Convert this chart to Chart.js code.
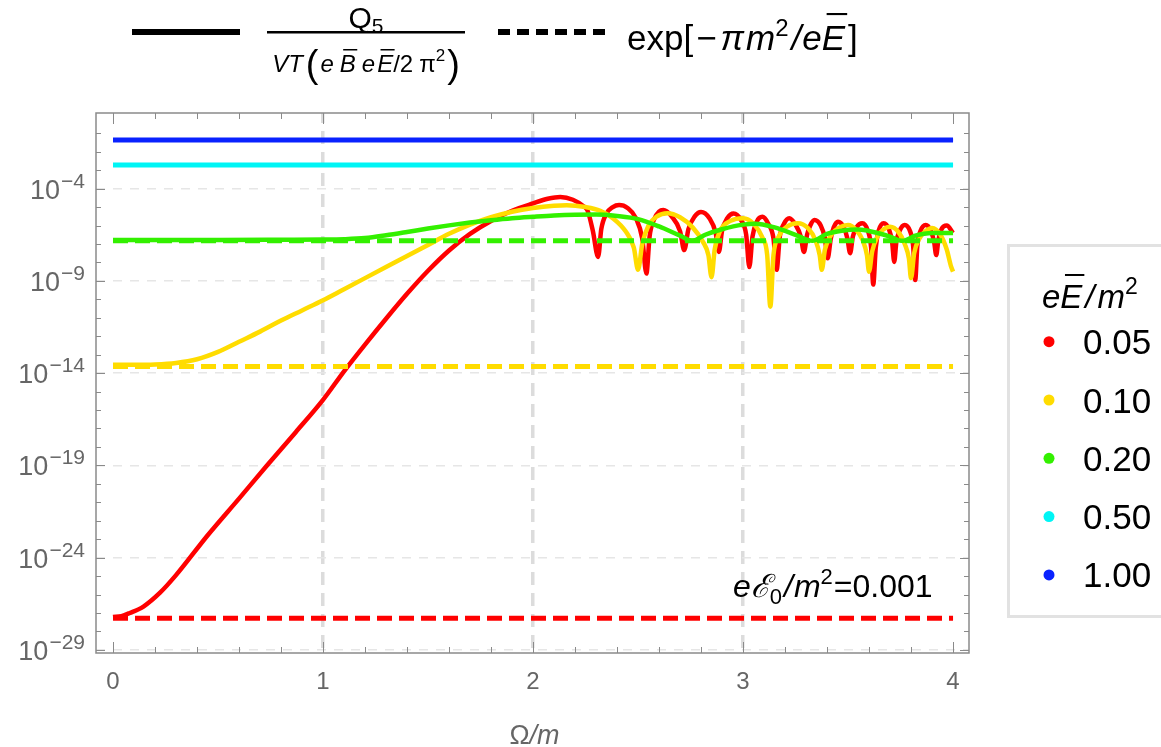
<!DOCTYPE html>
<html>
<head>
<meta charset="utf-8">
<script src="https://cdn.jsdelivr.net/npm/chart.js@4.4.1/dist/chart.umd.min.js"></script>
<style>
  html, body { margin: 0; padding: 0; background: #fff; }
  #wrap { position: relative; width: 1161px; height: 747px; }
</style>
</head>
<body>
<div id="wrap"><canvas id="chart" width="1161" height="747"></canvas></div>
<script>
// values: x is Omega/m, y values are log10 of Q5 / (VT eB eE / 2 pi^2)
const fieldLabels = ['0.05', '0.10', '0.20', '0.50', '1.00'];
const expLevels = [-27.29, -13.64, -6.82, -2.73, -1.36];   // log10 exp[-pi m^2 / eE]

const redOmega = [0, 0.04, 0.08, 0.145, 0.224, 0.3, 0.45, 0.6, 0.73, 0.87, 1.0, 1.1, 1.2, 1.3, 1.4, 1.5, 1.6, 1.7, 1.8, 1.9, 2.0, 2.07, 2.13, 2.19, 2.24, 2.26, 2.285, 2.31,
  2.325, 2.35, 2.38, 2.41, 2.45, 2.49, 2.52, 2.54, 2.555, 2.575, 2.6, 2.62, 2.66, 2.70, 2.72, 2.74, 2.77, 2.80, 2.84, 2.87, 2.885,
  2.90, 2.925, 2.955, 2.99, 3.015, 3.03, 3.045, 3.065, 3.092, 3.12, 3.145, 3.16, 3.175, 3.195, 3.22, 3.25, 3.275, 3.29,
  3.305, 3.32, 3.34, 3.37, 3.39, 3.403, 3.418, 3.432, 3.452, 3.48, 3.497, 3.51, 3.523, 3.54, 3.568, 3.595, 3.61, 3.62,
  3.632, 3.645, 3.67, 3.695, 3.71, 3.72, 3.73, 3.745, 3.77, 3.795, 3.81, 3.82, 3.83, 3.845, 3.87, 3.895, 3.91, 3.92,
  3.93, 3.945, 3.97, 4.0];
const redLog = [-27.22, -27.17, -27.0, -26.65, -25.9, -24.95, -22.8, -20.8, -19.05, -17.2, -15.45, -13.9, -12.45, -11.05, -9.7, -8.45, -7.35, -6.45, -5.75, -5.2, -4.8, -4.55, -4.45, -4.6, -4.95, -5.2, -6.3, -7.7,
  -6.2, -5.35, -5.0, -4.89, -5.05, -5.6, -6.7, -8.6, -6.6, -5.7, -5.25, -5.16, -5.5, -6.3, -7.33, -6.2, -5.5, -5.26, -5.6, -6.4, -7.43,
  -6.3, -5.6, -5.35, -5.7, -6.5, -8.25, -6.6, -5.8, -5.53, -5.9, -6.7, -8.4, -6.6, -5.9, -5.6, -5.95, -6.6, -7.43,
  -6.5, -6.0, -5.7, -6.0, -6.7, -7.77, -6.7, -6.1, -5.8, -6.1, -6.7, -7.5, -6.6, -6.1, -5.87, -6.3, -7.2, -9.2,
  -7.2, -6.3, -5.87, -6.2, -6.9, -7.97, -6.9, -6.3, -5.97, -6.3, -7.1, -8.95, -7.1, -6.3, -5.97, -6.3, -6.9, -7.6,
  -6.8, -6.2, -6.0, -6.4];

const yellowOmega = [0, 0.1, 0.2, 0.3, 0.4, 0.5, 0.6, 0.7, 0.8, 0.9, 1.0, 1.1, 1.2, 1.3, 1.4, 1.5, 1.6, 1.7, 1.8, 1.9, 2.0, 2.1, 2.16, 2.25, 2.32, 2.38, 2.44, 2.48, 2.50,
  2.52, 2.55, 2.59, 2.64, 2.70, 2.76, 2.81, 2.835, 2.85, 2.865, 2.89, 2.94, 3.0, 3.05, 3.09, 3.115, 3.13, 3.145, 3.17, 3.21, 3.26,
  3.31, 3.345, 3.365, 3.375, 3.39, 3.42, 3.46, 3.50, 3.54, 3.57, 3.59, 3.60, 3.615, 3.64, 3.67, 3.70, 3.74, 3.77, 3.79, 3.80,
  3.815, 3.84, 3.87, 3.90, 3.94, 3.97, 3.99, 4.0];
const yellowLog = [-13.55, -13.55, -13.53, -13.45, -13.25, -12.85, -12.3, -11.75, -11.15, -10.6, -10.05, -9.45, -8.85, -8.25, -7.65, -7.05, -6.45, -5.95, -5.55, -5.25, -5.05, -4.93, -4.9, -5.0, -5.2, -5.6, -6.3, -7.2, -8.4,
  -7.0, -6.0, -5.5, -5.33, -5.55, -6.1, -6.9, -7.6, -8.8, -7.3, -6.3, -5.75, -5.6, -5.9, -6.6, -7.6, -10.4, -7.6, -6.6, -6.05, -5.87,
  -6.15, -6.8, -7.6, -8.4, -7.3, -6.5, -6.1, -5.97, -6.25, -6.8, -7.6, -8.5, -7.4, -6.6, -6.2, -6.07, -6.35, -7.0, -7.8, -8.85,
  -7.5, -6.7, -6.3, -6.13, -6.5, -7.3, -8.2, -8.5];

const greenOmega = [0, 0.5, 0.8, 1.0, 1.1, 1.2, 1.3, 1.4, 1.5, 1.6, 1.7, 1.8, 1.9, 2.0, 2.1, 2.2, 2.3, 2.4, 2.5, 2.6, 2.7, 2.76, 2.82, 2.9, 3.0, 3.06,
  3.15, 3.25, 3.33, 3.4, 3.47, 3.55, 3.62, 3.7, 3.76, 3.82, 3.9, 4.0];
const greenLog = [-6.78, -6.78, -6.77, -6.76, -6.74, -6.68, -6.53, -6.35, -6.16, -5.99, -5.84, -5.71, -5.6, -5.52, -5.45, -5.41, -5.4, -5.48, -5.65, -6.05, -6.55, -6.83, -6.5, -6.2, -5.95, -5.9,
  -6.1, -6.5, -6.83, -6.45, -6.28, -6.22, -6.35, -6.6, -6.83, -6.55, -6.4, -6.4];

const cyanOmega = [0, 4];
const cyanLog = [-2.72, -2.72];
const blueOmega = [0, 4];
const blueLog = [-1.36, -1.36];

// axis ticks
const xTickLabels = ['0', '1', '2', '3', '4'];
const xGridAt = [1, 2, 3];
const yLabelExps = [-4, -9, -14, -19, -24, -29];

const colors = ['#ff0000', '#ffdc00', '#33f000', '#00f5f5', '#0a22ff'];
const FONT = '"Liberation Sans", Arial, sans-serif';
const GREY = '#666666';

function pts(xs, logs) {
  return xs.map((x, i) => ({ x: x, y: Math.pow(10, logs[i]) }));
}

const solidSeries = [
  [redOmega, redLog], [yellowOmega, yellowLog], [greenOmega, greenLog], [cyanOmega, cyanLog], [blueOmega, blueLog]
];

function solid(i) {
  return {
    data: pts(solidSeries[i][0], solidSeries[i][1]),
    borderColor: colors[i],
    borderWidth: i > 2 ? 5 : 4.5
  };
}
// the two top dashed levels sit under their solid curves
const dashedSets = expLevels.map((lv, i) => ({
  data: pts([0, 4], [lv, lv]),
  borderColor: colors[i],
  borderWidth: i > 2 ? 3 : 5,
  borderDash: [15, 7]
}));
// first dataset is painted on top
const allSets = [solid(4), solid(3)].concat(dashedSets, [solid(2), solid(1), solid(0)]);

// --- text helpers
function runFont(r) {
  return (r.it ? 'italic ' : '') + r.size + 'px ' + (r.family || FONT);
}
function measureRuns(ctx, runs) {
  let w = 0;
  runs.forEach(r => { ctx.font = runFont(r); w += ctx.measureText(r.t).width + (r.gap || 0); });
  return w;
}
function drawRuns(ctx, runs, x, y) {
  runs.forEach(r => {
    ctx.font = runFont(r);
    const w = ctx.measureText(r.t).width;
    ctx.fillText(r.t, x, y + (r.dy || 0));
    if (r.bar) {
      ctx.fillRect(x + r.size * 0.14, y + r.bar, w - r.size * 0.08, Math.max(1.5, r.size * 0.06));
    }
    x += w + (r.gap || 0);
  });
  return x;
}

const decorPlugin = {
  id: 'decor',
  afterDraw(chart) {
    const ctx = chart.ctx;
    const a = chart.chartArea;
    const xs = chart.scales.x, ys = chart.scales.y;
    ctx.save();

    // frame
    ctx.strokeStyle = '#8a8a8a';
    ctx.lineWidth = 1.5;
    ctx.strokeRect(a.left, a.top, a.right - a.left, a.bottom - a.top);

    // inward ticks
    ctx.lineWidth = 1;
    ctx.beginPath();
    for (let k = 0; k <= 20; k++) {
      const v = k / 5;
      const px = Math.round(xs.getPixelForValue(v)) + 0.5;
      const len = k % 5 === 0 ? 11 : 6;
      ctx.moveTo(px, a.bottom); ctx.lineTo(px, a.bottom - len);
      ctx.moveTo(px, a.top); ctx.lineTo(px, a.top + len);
    }
    for (let e = -29; e <= -1; e++) {
      const py = Math.round(ys.getPixelForValue(Math.pow(10, e))) + 0.5;
      const len = yLabelExps.includes(e) ? 9 : 5;
      ctx.moveTo(a.left, py); ctx.lineTo(a.left + len, py);
      ctx.moveTo(a.right, py); ctx.lineTo(a.right - len, py);
    }
    ctx.stroke();

    // tick labels
    ctx.fillStyle = GREY;
    ctx.textBaseline = 'alphabetic';
    ctx.textAlign = 'center';
    ctx.font = '24px ' + FONT;
    xTickLabels.forEach(l => {
      ctx.fillText(l, xs.getPixelForValue(Number(l)), 689);
    });
    ctx.textAlign = 'left';
    yLabelExps.forEach(e => {
      const py = ys.getPixelForValue(Math.pow(10, e));
      const runs = [
        { t: '10', size: 27, gap: 1 },
        { t: '\u2212' + Math.abs(e), size: 21, dy: -11 }
      ];
      const w = measureRuns(ctx, runs);
      drawRuns(ctx, runs, 85 - w, py + 10);
    });

    // x axis title
    const xt = [{ t: '\u03A9', size: 27 }, { t: '/', size: 27, it: true }, { t: 'm', size: 27, it: true }];
    drawRuns(ctx, xt, (a.left + a.right) / 2 - measureRuns(ctx, xt) / 2 + 2, 744);

    // annotation
    ctx.fillStyle = '#000';
    drawRuns(ctx, [
      { t: 'e', size: 32, it: true },
      { t: '\u2130', size: 32, it: true, family: '"DejaVu Serif", serif' },
      { t: '0', size: 22, dy: 7, gap: 2 },
      { t: '/', size: 32, it: true, gap: 1 },
      { t: 'm', size: 32, it: true },
      { t: '2', size: 22, dy: -13, gap: 1 },
      { t: '=0.001', size: 32 }
    ], 733, 597);

    // top legend
    ctx.strokeStyle = '#000';
    ctx.lineWidth = 6;
    ctx.beginPath(); ctx.moveTo(132, 32); ctx.lineTo(240, 32); ctx.stroke();
    ctx.setLineDash([12, 7]);
    ctx.beginPath(); ctx.moveTo(498, 32); ctx.lineTo(605, 32); ctx.stroke();
    ctx.setLineDash([]);
    ctx.fillRect(267, 31, 198, 2.5);
    const num = [{ t: 'Q', size: 30 }, { t: '5', size: 21, dy: 5 }];
    drawRuns(ctx, num, 366 - measureRuns(ctx, num) / 2, 28);
    const den = [
      { t: 'V', size: 24, it: true },
      { t: 'T', size: 24, it: true, gap: 3 },
      { t: '(', size: 38, dy: 5, gap: 2 },
      { t: 'e', size: 24, it: true, gap: 6 },
      { t: 'B', size: 24, it: true, bar: -23, gap: 6 },
      { t: 'e', size: 24, it: true, gap: 2 },
      { t: 'E', size: 24, it: true, bar: -23 },
      { t: '/', size: 24 },
      { t: '2', size: 24, gap: 6 },
      { t: '\u03C0', size: 24 },
      { t: '2', size: 17, dy: -11, gap: 2 },
      { t: ')', size: 38, dy: 5 }
    ];
    drawRuns(ctx, den, 366 - measureRuns(ctx, den) / 2, 72);
    drawRuns(ctx, [
      { t: 'exp[', size: 35, gap: 3 },
      { t: '\u2212', size: 35, gap: 4 },
      { t: '\u03C0', size: 35, it: true, gap: 2 },
      { t: 'm', size: 35, it: true },
      { t: '2', size: 24, dy: -14, gap: 3 },
      { t: '/', size: 35, it: true, gap: 1 },
      { t: 'e', size: 35, it: true },
      { t: 'E', size: 35, it: true, bar: -37, gap: 3 },
      { t: ']', size: 35 }
    ], 627, 50);

    // right legend
    ctx.strokeStyle = '#e2e2e2';
    ctx.lineWidth = 3;
    ctx.strokeRect(1008.5, 245.5, 200, 371);
    drawRuns(ctx, [
      { t: 'e', size: 33, it: true },
      { t: 'E', size: 33, it: true, bar: -34, gap: 3 },
      { t: '/', size: 33, it: true, gap: 3 },
      { t: 'm', size: 33, it: true },
      { t: '2', size: 23, dy: -14 }
    ], 1042, 308);
    fieldLabels.forEach((lab, i) => {
      const cy = 341.7 + i * 58.3;
      ctx.fillStyle = colors[i];
      ctx.beginPath(); ctx.arc(1049, cy, 5.5, 0, Math.PI * 2); ctx.fill();
      ctx.fillStyle = '#000';
      ctx.font = '35px ' + FONT;
      ctx.fillText(lab, 1083, cy + 12.5);
    });
    ctx.restore();
  }
};

new Chart(document.getElementById('chart'), {
  type: 'line',
  data: { datasets: allSets },
  options: {
    responsive: false,
    animation: false,
    devicePixelRatio: 1,
    layout: { padding: { left: 96, top: 113, right: 192, bottom: 94 } },
    plugins: { legend: { display: false }, tooltip: { enabled: false } },
    elements: {
      point: { radius: 0 },
      line: { cubicInterpolationMode: 'monotone', borderCapStyle: 'butt', fill: false }
    },
    scales: {
      x: {
        type: 'linear', min: -0.081, max: 4.076,
        afterBuildTicks: s => { s.ticks = xGridAt.map(v => ({ value: v })); },
        ticks: { display: false },
        grid: { color: '#dcdcdc', lineWidth: 3.5, drawTicks: false },
        border: { display: false, dash: [13, 8], dashOffset: 3 }
      },
      y: {
        type: 'logarithmic', min: Math.pow(10, -29.17), max: Math.pow(10, 0.1),
        afterBuildTicks: s => { s.ticks = yLabelExps.map(e => ({ value: Math.pow(10, e) })); },
        ticks: { display: false },
        grid: { color: '#e6e6e6', lineWidth: 1.5, drawTicks: false },
        border: { display: false, dash: [9, 8] }
      }
    }
  },
  plugins: [decorPlugin]
});
</script>
</body>
</html>
